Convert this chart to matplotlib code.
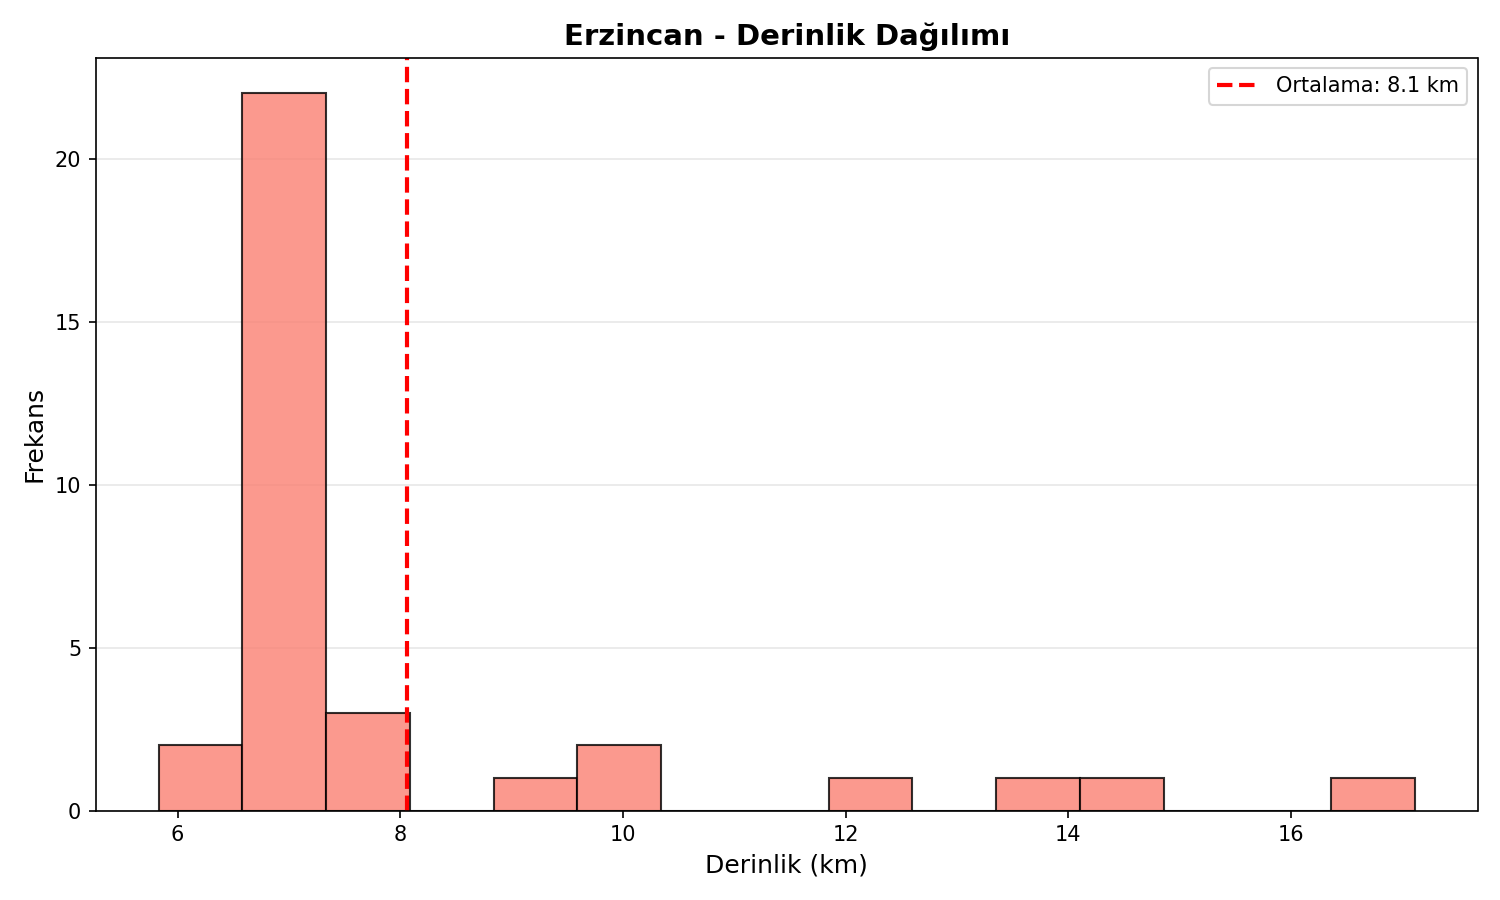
import numpy as np
import matplotlib
matplotlib.use("Agg")
import matplotlib.pyplot as plt

depth_min = 5.83
depth_max = 17.11
counts = [2, 22, 3, 0, 1, 2, 0, 0, 1, 0, 1, 1, 0, 0, 1]
mean_depth = 8.06

edges = np.linspace(depth_min, depth_max, len(counts) + 1)
fig, ax = plt.subplots(figsize=(10, 6), dpi=150)
ax.bar(edges[:-1], counts, width=np.diff(edges), align='edge',
       color='salmon', alpha=0.8, edgecolor='black', linewidth=1)
ax.axvline(mean_depth, color='red', linestyle='--', linewidth=2,
           label=f'Ortalama: {mean_depth:.1f} km')
ax.set_title('Erzincan - Derinlik Dağılımı', fontsize=14, fontweight='bold')
ax.set_xlabel('Derinlik (km)', fontsize=12)
ax.set_ylabel('Frekans', fontsize=12)
ax.grid(axis='y', alpha=0.3)
ax.set_axisbelow(True)
ax.legend()
plt.tight_layout()
plt.savefig('out.png')
